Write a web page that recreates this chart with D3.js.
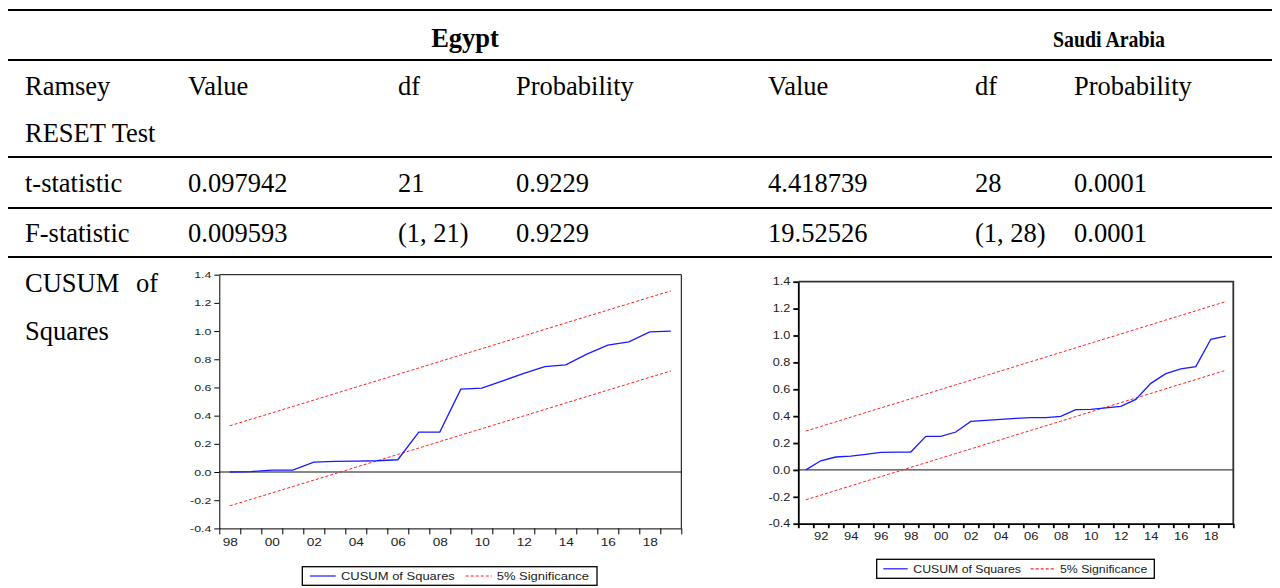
<!DOCTYPE html>
<html>
<head>
<meta charset="utf-8">
<script src="https://cdn.jsdelivr.net/npm/d3@7"></script>
<style>
  body { margin: 0; background: #fff; }
  svg { display: block; }
  .tbl { font-family: "Liberation Serif", "Times New Roman", serif; font-size: 26.5px; fill: #000; }
  .hd { font-weight: bold; }
  .ax text, .leg text { font-family: "Liberation Sans", Arial, sans-serif; fill: #222; }
</style>
</head>
<body>
<div id="chart"></div>
<script>
// Table contents
const countries = ['Egypt', 'Saudi Arabia'];
const colHeads = ['Value', 'df', 'Probability'];
const rowLabels = ['t-statistic', 'F-statistic'];
const egyptStats = [['0.097942', '21', '0.9229'], ['0.009593', '(1, 21)', '0.9229']];
const saudiStats = [['4.418739', '28', '0.0001'], ['19.52526', '(1, 28)', '0.0001']];

// CUSUM of squares, Egypt
const egyptYears = [1998, 1999, 2000, 2001, 2002, 2003, 2004, 2005, 2006, 2007, 2008,
  2009, 2010, 2011, 2012, 2013, 2014, 2015, 2016, 2017, 2018, 2019];
const egyptCusum = [0.000, 0.003, 0.013, 0.013, 0.070, 0.075, 0.077, 0.080, 0.087, 0.283, 0.283,
  0.588, 0.595, 0.647, 0.700, 0.748, 0.760, 0.836, 0.900, 0.923, 0.994, 1.000];
const egyptUpper = [0.328, 0.374, 0.419, 0.465, 0.510, 0.556, 0.602, 0.647, 0.693, 0.738, 0.784,
  0.830, 0.875, 0.921, 0.966, 1.012, 1.058, 1.103, 1.149, 1.194, 1.240, 1.285];
const egyptLower = [-0.240, -0.194, -0.149, -0.103, -0.058, -0.012, 0.034, 0.079, 0.125, 0.170, 0.216,
  0.262, 0.307, 0.353, 0.398, 0.444, 0.490, 0.535, 0.581, 0.626, 0.672, 0.717];
const egyptLabelYears = [1998, 2000, 2002, 2004, 2006, 2008, 2010, 2012, 2014, 2016, 2018];

// CUSUM of squares, Saudi Arabia
const saudiYears = [1991, 1992, 1993, 1994, 1995, 1996, 1997, 1998, 1999, 2000, 2001, 2002, 2003,
  2004, 2005, 2006, 2007, 2008, 2009, 2010, 2011, 2012, 2013, 2014, 2015, 2016, 2017, 2018, 2019];
const saudiCusum = [0.000, 0.068, 0.096, 0.103, 0.116, 0.131, 0.133, 0.133, 0.250, 0.250, 0.282, 0.361, 0.369,
  0.376, 0.384, 0.389, 0.389, 0.399, 0.448, 0.451, 0.461, 0.473, 0.525, 0.644, 0.716, 0.751, 0.768, 0.972, 0.996];
const saudiUpper = [0.289, 0.323, 0.358, 0.392, 0.427, 0.461, 0.495, 0.530, 0.564, 0.599, 0.633, 0.667, 0.702,
  0.736, 0.771, 0.805, 0.839, 0.874, 0.908, 0.943, 0.977, 1.011, 1.046, 1.080, 1.115, 1.149, 1.183, 1.218, 1.252];
const saudiLower = [-0.222, -0.188, -0.153, -0.119, -0.084, -0.050, -0.016, 0.019, 0.053, 0.088, 0.122, 0.156, 0.191,
  0.225, 0.260, 0.294, 0.328, 0.363, 0.397, 0.432, 0.466, 0.500, 0.535, 0.569, 0.604, 0.638, 0.672, 0.707, 0.741];
const saudiLabelYears = [1992, 1994, 1996, 1998, 2000, 2002, 2004, 2006, 2008, 2010, 2012, 2014, 2016, 2018];

const yTicks = [-0.4, -0.2, 0.0, 0.2, 0.4, 0.6, 0.8, 1.0, 1.2, 1.4];
const legendLabels = ['CUSUM of Squares', '5% Significance'];

const svg = d3.select('#chart')
  .append('svg')
  .attr('width', 1280)
  .attr('height', 588);

// Table
const rules = [10, 60, 157, 208, 257];
svg.selectAll('line.rule')
  .data(rules)
  .join('line')
  .attr('class', 'rule')
  .attr('x1', 8).attr('x2', 1272)
  .attr('y1', (d) => d).attr('y2', (d) => d)
  .attr('stroke', '#000')
  .attr('stroke-width', 2);

const colX = [188, 398, 516];
const colX2 = [768, 975, 1074];
const tbl = svg.append('g').attr('class', 'tbl');

tbl.append('text').attr('class', 'hd').attr('x', 465).attr('y', 47)
  .attr('text-anchor', 'middle').text(countries[0]);
tbl.append('text').attr('class', 'hd').attr('x', 1109).attr('y', 47)
  .attr('text-anchor', 'middle')
  .style('font-size', '23px')
  .attr('textLength', 112).attr('lengthAdjust', 'spacingAndGlyphs')
  .text(countries[1]);

tbl.append('text').attr('x', 25).attr('y', 95).text('Ramsey');
tbl.append('text').attr('x', 25).attr('y', 142).text('RESET Test');
colHeads.forEach((h, i) => {
  tbl.append('text').attr('x', colX[i]).attr('y', 95).text(h);
  tbl.append('text').attr('x', colX2[i]).attr('y', 95).text(h);
});

const rowY = [192, 242];
rowLabels.forEach((r, j) => {
  tbl.append('text').attr('x', 25).attr('y', rowY[j]).text(r);
  egyptStats[j].forEach((v, i) => tbl.append('text').attr('x', colX[i]).attr('y', rowY[j]).text(v));
  saudiStats[j].forEach((v, i) => tbl.append('text').attr('x', colX2[i]).attr('y', rowY[j]).text(v));
});

tbl.append('text').attr('x', 25).attr('y', 292).text('CUSUM');
tbl.append('text').attr('x', 158).attr('y', 292).attr('text-anchor', 'end').text('of');
tbl.append('text').attr('x', 25).attr('y', 340).text('Squares');

// stretch EViews-style text horizontally
function stretch(sel, k, x0) {
  sel.attr('x', x0 / k).attr('transform', `scale(${k},1)`);
}

// Draw one CUSUM of squares panel
function drawCusum(cfg, years, cusum, upper, lower, labelYears) {
  const g = svg.append('g');
  const x = d3.scaleLinear()
    .domain([years[0], years[years.length - 1] + 1])
    .range([cfg.left, cfg.right]);
  const y = d3.scaleLinear()
    .domain([yTicks[0], yTicks[yTicks.length - 1]])
    .range([cfg.bottom, cfg.top]);

  const pts = (vals) => years.map((yr, i) => ({ yr, v: vals[i] }));
  const line = d3.line()
    .x((d) => x(d.yr + 0.5))
    .y((d) => y(d.v));

  // zero line
  g.append('line')
    .attr('x1', x.range()[0]).attr('x2', x.range()[1])
    .attr('y1', y(0)).attr('y2', y(0))
    .attr('stroke', cfg.zeroColor)
    .attr('stroke-width', cfg.zeroWidth);

  // bands
  [upper, lower].forEach((b) => {
    g.append('path')
      .datum(pts(b))
      .attr('fill', 'none')
      .attr('stroke', '#ff2020')
      .attr('stroke-width', 1)
      .attr('stroke-dasharray', '3,2')
      .attr('d', line);
  });

  // cusum
  g.append('path')
    .datum(pts(cusum))
    .attr('fill', 'none')
    .attr('stroke', '#1a1aff')
    .attr('stroke-width', 1.3)
    .attr('d', line);

  // top and right border
  g.append('path')
    .attr('d', `M${x.range()[0]},${y.range()[1]}H${x.range()[1]}V${y.range()[0]}`)
    .attr('fill', 'none')
    .attr('stroke', cfg.frameColor)
    .attr('stroke-width', cfg.frameWidth);

  // y axis
  const yAxis = g.append('g')
    .attr('class', 'ax')
    .attr('transform', `translate(${cfg.left},0)`)
    .call(d3.axisLeft(y).tickValues(yTicks).tickSize(5).tickSizeOuter(0)
      .tickFormat((d) => d.toFixed(1)));
  yAxis.selectAll('path, line').attr('stroke', '#000').attr('stroke-width', cfg.frameWidth);
  yAxis.selectAll('text').style('font-size', `${cfg.yFont}px`);
  stretch(yAxis.selectAll('text'), cfg.k, -8);

  // x axis ticks at year boundaries
  const xAxis = g.append('g')
    .attr('class', 'ax')
    .attr('transform', `translate(0,${cfg.bottom})`)
    .call(d3.axisBottom(x).tickValues([...years, years[years.length - 1] + 1])
      .tickSize(cfg.xTick).tickSizeOuter(0).tickFormat(''));
  xAxis.selectAll('path, line').attr('stroke', '#000').attr('stroke-width', cfg.frameWidth);

  // x labels centred in the year interval
  const xLab = g.append('g')
    .attr('class', 'ax')
    .attr('transform', `translate(0,${cfg.bottom})`)
    .call(d3.axisBottom(x).tickValues(labelYears.map((d) => d + 0.5)).tickSize(0)
      .tickPadding(cfg.xPad).tickFormat((d) => String(Math.floor(d)).slice(2)));
  xLab.select('.domain').remove();
  xLab.selectAll('text').style('font-size', `${cfg.xFont}px`).attr('transform', `scale(${cfg.k},1)`);

  // legend
  const lg = g.append('g').attr('class', 'leg');
  lg.append('rect')
    .attr('x', cfg.leg.x).attr('y', cfg.leg.y)
    .attr('width', cfg.leg.w).attr('height', cfg.leg.h)
    .attr('fill', '#fff')
    .attr('stroke', '#000')
    .attr('stroke-width', 1.3);
  const ly = cfg.leg.y + cfg.leg.h / 2;
  const items = [
    { x0: cfg.leg.s1, x1: cfg.leg.s1e, tx: cfg.leg.t1, color: '#1a1aff', dash: null },
    { x0: cfg.leg.s2, x1: cfg.leg.s2e, tx: cfg.leg.t2, color: '#ff2020', dash: '3,2' },
  ];
  items.forEach((it, i) => {
    lg.append('line')
      .attr('x1', it.x0).attr('x2', it.x1)
      .attr('y1', ly).attr('y2', ly)
      .attr('stroke', it.color)
      .attr('stroke-width', 1.2)
      .attr('stroke-dasharray', it.dash);
    const t = lg.append('text')
      .attr('y', ly + cfg.legFont * 0.36)
      .style('font-size', `${cfg.legFont}px`)
      .text(legendLabels[i]);
    stretch(t, cfg.legK, it.tx);
  });
}

drawCusum({
  left: 219.3, right: 681.3, top: 274.7, bottom: 528.4,
  zeroColor: '#888', zeroWidth: 2, frameColor: '#000', frameWidth: 1,
  yFont: 9.5, xFont: 10.5, k: 1.3, xTick: 6, xPad: 10,
  legFont: 11, legK: 1.18,
  leg: { x: 302.3, y: 566.7, w: 294.7, h: 18.6, s1: 310, s1e: 335.7, t1: 341,
    s2: 465.7, s2e: 491.7, t2: 496.7 },
}, egyptYears, egyptCusum, egyptUpper, egyptLower, egyptLabelYears);

drawCusum({
  left: 798.3, right: 1233.3, top: 281.7, bottom: 523.7,
  zeroColor: '#444', zeroWidth: 1.2, frameColor: '#333', frameWidth: 1.8,
  yFont: 10, xFont: 10.2, k: 1.27, xTick: 4.5, xPad: 9,
  legFont: 10.5, legK: 1.17,
  leg: { x: 876.7, y: 559.3, w: 277.6, h: 19, s1: 883.3, s1e: 907.7, t1: 913.3,
    s2: 1030.7, s2e: 1055, t2: 1060 },
}, saudiYears, saudiCusum, saudiUpper, saudiLower, saudiLabelYears);
</script>
</body>
</html>
